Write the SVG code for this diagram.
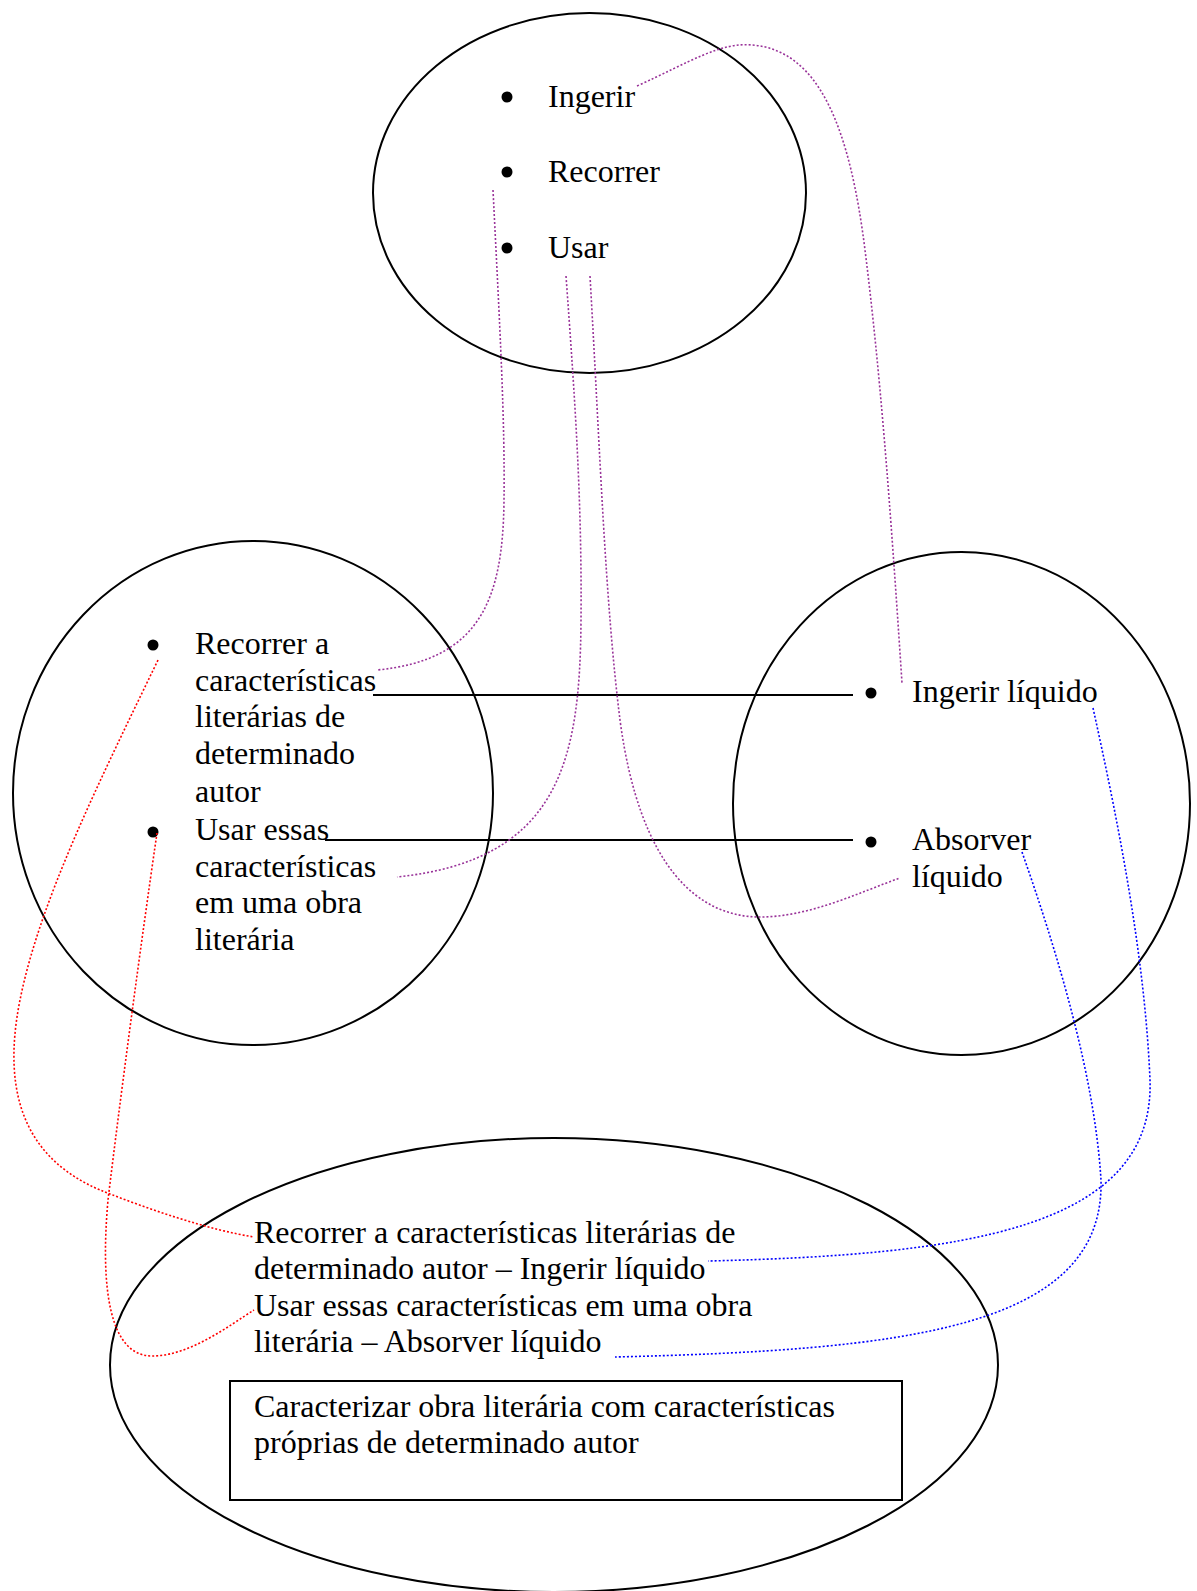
<svg xmlns="http://www.w3.org/2000/svg" width="1197" height="1591" viewBox="0 0 1197 1591">
  <style>
    text { font-family: "Liberation Serif", "Times New Roman", serif; font-size: 32px; fill: #000; }
    .shape { fill: none; stroke: #000; stroke-width: 2; }
    .dot { fill: #000; }
    .link { fill: none; stroke: #000; stroke-width: 2; }
    .purple { fill: none; stroke: #993399; stroke-width: 1.6; stroke-dasharray: 2 2; }
    .red { fill: none; stroke: #ff0000; stroke-width: 1.6; stroke-dasharray: 2 2; }
    .blue { fill: none; stroke: #0000ff; stroke-width: 1.6; stroke-dasharray: 2 2; }
  </style>
  <rect width="1197" height="1591" fill="#fff"/>

  <!-- verbs -->
  <g id="verbs">
    <ellipse class="shape" cx="589.5" cy="193" rx="216.5" ry="180"/>
    <circle class="dot" cx="507" cy="97" r="5.5"/>
    <circle class="dot" cx="507" cy="172" r="5.5"/>
    <circle class="dot" cx="507" cy="248" r="5.5"/>
    <text x="548" y="107">Ingerir</text>
    <text x="548" y="182">Recorrer</text>
    <text x="548" y="258">Usar</text>
  </g>

  <!-- literary side -->
  <g id="literary">
    <ellipse class="shape" cx="253" cy="793" rx="240" ry="252"/>
    <circle class="dot" cx="153" cy="645" r="5.5"/>
    <circle class="dot" cx="153" cy="832" r="5.5"/>
    <text x="195" y="654">Recorrer a</text>
    <text x="195" y="691">características</text>
    <text x="195" y="727">literárias de</text>
    <text x="195" y="764">determinado</text>
    <text x="195" y="802">autor</text>
    <text x="195" y="840">Usar essas</text>
    <text x="195" y="877">características</text>
    <text x="195" y="913">em uma obra</text>
    <text x="195" y="950">literária</text>
  </g>

  <!-- liquid side -->
  <g id="liquid">
    <ellipse class="shape" cx="961.5" cy="803.5" rx="228.5" ry="251.5"/>
    <circle class="dot" cx="871" cy="693" r="5.5"/>
    <circle class="dot" cx="871" cy="842" r="5.5"/>
    <text x="912" y="702">Ingerir líquido</text>
    <text x="912" y="850">Absorver</text>
    <text x="912" y="887">líquido</text>
  </g>

  <!-- synthesis -->
  <g id="synthesis">
    <ellipse class="shape" cx="554" cy="1365" rx="444" ry="227"/>
    <text x="254" y="1243">Recorrer a características literárias de</text>
    <text x="254" y="1279">determinado autor – Ingerir líquido</text>
    <text x="254" y="1316">Usar essas características em uma obra</text>
    <text x="254" y="1352">literária – Absorver líquido</text>
  </g>

  <g id="conclusion">
    <rect class="shape" x="230" y="1381" width="672" height="119"/>
    <text x="254" y="1417">Caracterizar obra literária com características</text>
    <text x="254" y="1453">próprias de determinado autor</text>
  </g>

  <!-- connectors -->
  <g id="connectors">
    <line class="link" x1="373" y1="695" x2="853" y2="695"/>
    <line class="link" x1="325" y1="840" x2="853" y2="840"/>

    <path class="purple" d="M637,86 C690,62 720,42 752,45 C820,50 850,130 865,250 C880,370 890,500 902,683"/>
    <path class="purple" d="M493,190 C500,330 505,420 504,500 C503,600 480,660 377,670"/>
    <path class="purple" d="M566,276 C575,400 582,500 581,620 C580,760 560,860 397,877"/>
    <path class="purple" d="M590,276 C600,450 605,600 620,720 C640,870 700,917 760,917 C810,917 860,892 900,878"/>

    <path class="blue" d="M1093,708 C1120,830 1145,960 1150,1080 C1155,1230 960,1255 708,1261"/>
    <path class="blue" d="M1022,852 C1060,960 1095,1080 1101,1180 C1105,1330 900,1350 615,1357"/>

    <path class="red" d="M158,660 C100,780 40,900 20,1000 C0,1100 30,1160 100,1190 C150,1210 210,1230 254,1237"/>
    <path class="red" d="M157,833 C140,950 120,1100 108,1200 C100,1290 110,1356 152,1356 C190,1356 230,1325 254,1310"/>
  </g>
</svg>
